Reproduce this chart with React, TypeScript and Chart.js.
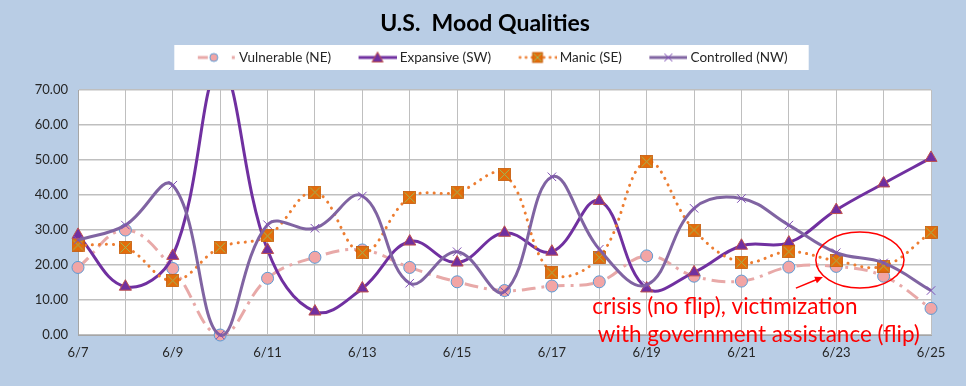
import React, { useEffect, useRef } from 'react';
import { Chart, registerables } from 'chart.js';
Chart.register(...registerables);

const labels = ['6/7','6/8','6/9','6/10','6/11','6/12','6/13','6/14','6/15','6/16','6/17','6/18','6/19','6/20','6/21','6/22','6/23','6/24','6/25'];
const vulnerable = [19.3, 30.0, 19.0, 0.0, 16.2, 22.2, 24.3, 19.3, 15.2, 12.7, 14.0, 15.2, 22.6, 16.8, 15.4, 19.4, 19.6, 16.8, 7.6];
const expansive = [28.6, 13.8, 22.6, 76.0, 24.3, 6.7, 13.3, 26.7, 20.7, 29.2, 23.8, 38.3, 13.3, 17.9, 25.5, 26.4, 35.7, 43.3, 50.6];
const manic = [25.7, 25.0, 15.5, 25.0, 28.3, 40.8, 23.5, 39.3, 40.8, 45.9, 17.8, 22.2, 49.5, 30.0, 20.8, 23.8, 21.2, 19.7, 29.3];
const controlled = [27.1, 31.4, 42.8, 0.0, 31.5, 30.5, 39.7, 14.8, 23.8, 12.4, 45.2, 24.5, 14.3, 36.2, 39.0, 31.4, 23.5, 20.6, 12.7];
const seriesNames = ['Vulnerable (NE)', 'Expansive (SW)', 'Manic (SE)', 'Controlled (NW)'];
const chartTitle = 'U.S.  Mood Qualities';
const noteLines = ['crisis (no flip), victimization', 'with government assistance (flip)'];
const yMin = 0;
const yMax = 70;
const yStep = 10;

const FONT = 'Lato, "Open Sans", sans-serif';
const TEXT = '#262626';

function makeCanvas(w: number, h: number, draw: (c: CanvasRenderingContext2D) => void) {
  const cv = document.createElement('canvas');
  cv.width = w;
  cv.height = h;
  const c = cv.getContext('2d')!;
  draw(c);
  return cv;
}

function drawManicSquare(c: CanvasRenderingContext2D, cx: number, cy: number, s: number) {
  const h = s / 2;
  c.fillStyle = '#E46C0A';
  c.fillRect(cx - h, cy - h, s, s);
  c.strokeStyle = '#C65A08';
  c.lineWidth = 0.8;
  c.strokeRect(cx - h, cy - h, s, s);
  c.strokeStyle = '#9BBB59';
  c.lineWidth = 1;
  c.beginPath();
  c.moveTo(cx - h + 1, cy - h + 1);
  c.lineTo(cx + h - 1, cy + h - 1);
  c.moveTo(cx + h - 1, cy - h + 1);
  c.lineTo(cx - h + 1, cy + h - 1);
  c.stroke();
}

export default function App() {
  const ref = useRef<HTMLCanvasElement>(null);

  useEffect(() => {
    const manicMarker = makeCanvas(13, 13, (c) => drawManicSquare(c, 6.5, 6.5, 12));

    const LW = 57, LH = 16, CY = 8, S0 = 19, SC = 38;
    const legendImgs = [
      makeCanvas(LW, LH, (c) => {
        c.strokeStyle = '#E8A9A8'; c.lineWidth = 3;
        c.beginPath(); c.moveTo(S0, CY); c.lineTo(S0 + 10, CY); c.stroke();
        c.fillStyle = '#E8A9A8'; c.fillRect(S0 + 34, CY - 1.5, 3, 3);
        c.beginPath(); c.arc(S0 + 16, CY, 4, 0, Math.PI * 2);
        c.fillStyle = '#F2A5A5'; c.fill();
        c.strokeStyle = '#5B9BD5'; c.lineWidth = 1; c.stroke();
      }),
      makeCanvas(LW, LH, (c) => {
        c.strokeStyle = '#7030A0'; c.lineWidth = 3;
        c.beginPath(); c.moveTo(S0, CY); c.lineTo(LW, CY); c.stroke();
        c.beginPath(); c.moveTo(SC, CY - 5.5); c.lineTo(SC + 5.5, CY + 4.5); c.lineTo(SC - 5.5, CY + 4.5); c.closePath();
        c.fillStyle = '#7030A0'; c.fill();
        c.strokeStyle = '#C0504D'; c.lineWidth = 1; c.stroke();
      }),
      makeCanvas(LW, LH, (c) => {
        c.fillStyle = '#ED7D31';
        [S0 + 1.5, S0 + 7.5, S0 + 13.5, SC + 6.5, SC + 12.5, SC + 18.5].forEach((x) => {
          c.beginPath(); c.arc(x, CY, 1.4, 0, Math.PI * 2); c.fill();
        });
        drawManicSquare(c, SC, CY, 10);
      }),
      makeCanvas(LW, LH, (c) => {
        c.strokeStyle = '#8064A2'; c.lineWidth = 3;
        c.beginPath(); c.moveTo(S0, CY); c.lineTo(LW, CY); c.stroke();
        c.strokeStyle = '#7F4FB5'; c.lineWidth = 1;
        c.beginPath(); c.moveTo(SC - 4, CY - 4); c.lineTo(SC + 4, CY + 4); c.moveTo(SC + 4, CY - 4); c.lineTo(SC - 4, CY + 4); c.stroke();
      }),
    ];

    const bgPlugin = {
      id: 'bgPlugin',
      beforeDraw(chart: any) {
        const { ctx, chartArea } = chart;
        ctx.save();
        ctx.fillStyle = '#B9CDE5';
        ctx.fillRect(0, 0, chart.width, chart.height);
        ctx.fillStyle = '#FFFFFF';
        ctx.fillRect(chartArea.left, chartArea.top, chartArea.right - chartArea.left, chartArea.bottom - chartArea.top);
        const hb = chart.legend && chart.legend.legendHitBoxes;
        if (hb && hb.length) {
          const l = Math.min(...hb.map((b: any) => b.left));
          const r = Math.max(...hb.map((b: any) => b.left + b.width));
          const cy = hb[0].top + hb[0].height / 2;
          ctx.fillRect(l - 8, cy - 12.5, r - l + 29, 25);
        }
        ctx.restore();
      },
    };

    const notePlugin = {
      id: 'notePlugin',
      afterDatasetsDraw(chart: any) {
        const { ctx } = chart;
        const xs = chart.scales.x;
        const ys = chart.scales.y;
        ctx.save();
        ctx.strokeStyle = '#FF0000';
        ctx.fillStyle = '#FF0000';
        ctx.lineWidth = 1.5;
        const ecx = xs.getPixelForValue(16.5);
        const ecy = ys.getPixelForValue(21.4);
        const erx = xs.getPixelForValue(16.5) - xs.getPixelForValue(15.57);
        const ery = ys.getPixelForValue(13.4) - ys.getPixelForValue(21.4);
        ctx.beginPath();
        ctx.ellipse(ecx, ecy, erx, ery, 0, 0, Math.PI * 2);
        ctx.stroke();
        const ax0 = xs.getPixelForValue(15.15), ay0 = ys.getPixelForValue(13.4);
        const ax1 = xs.getPixelForValue(15.72), ay1 = ys.getPixelForValue(16.6);
        const ang = Math.atan2(ay1 - ay0, ax1 - ax0);
        ctx.beginPath();
        ctx.moveTo(ax0, ay0);
        ctx.lineTo(ax1 - 6 * Math.cos(ang), ay1 - 6 * Math.sin(ang));
        ctx.stroke();
        ctx.beginPath();
        ctx.moveTo(ax1, ay1);
        ctx.lineTo(ax1 - 8 * Math.cos(ang) + 3.5 * Math.sin(ang), ay1 - 8 * Math.sin(ang) - 3.5 * Math.cos(ang));
        ctx.lineTo(ax1 - 8 * Math.cos(ang) - 3.5 * Math.sin(ang), ay1 - 8 * Math.sin(ang) + 3.5 * Math.cos(ang));
        ctx.closePath();
        ctx.fill();
        ctx.font = `22.5px ${FONT}`;
        ctx.textBaseline = 'middle';
        ctx.textAlign = 'left';
        ctx.fillText(noteLines[0], xs.getPixelForValue(10.85), ys.getPixelForValue(8.0));
        ctx.fillText(noteLines[1], xs.getPixelForValue(10.97), ys.getPixelForValue(0.0));
        ctx.restore();
      },
    };

    const common = { tension: 0.4, borderWidth: 3, clip: { left: 12, top: 0, right: 12, bottom: 12 } };

    const chart = new Chart(ref.current!, {
      type: 'line',
      data: {
        labels,
        datasets: [
          {
            ...common,
            label: seriesNames[0],
            data: vulnerable,
            order: 4,
            borderColor: '#E8A9A8',
            borderDash: [14, 6, 3, 6],
            pointStyle: 'circle',
            pointRadius: 6,
            pointBackgroundColor: '#F2A5A5',
            pointBorderColor: '#5B9BD5',
            pointBorderWidth: 1,
          },
          {
            ...common,
            label: seriesNames[1],
            data: expansive,
            order: 3,
            borderColor: '#7030A0',
            pointStyle: 'triangle',
            pointRadius: 7,
            pointBackgroundColor: '#7030A0',
            pointBorderColor: '#C0504D',
            pointBorderWidth: 1,
          },
          {
            ...common,
            label: seriesNames[2],
            data: manic,
            order: 2,
            borderColor: '#ED7D31',
            borderDash: [0.1, 7],
            borderCapStyle: 'round',
            pointStyle: manicMarker,
            pointRadius: 6,
          },
          {
            ...common,
            label: seriesNames[3],
            data: controlled,
            order: 1,
            borderColor: '#8064A2',
            pointStyle: 'crossRot',
            pointRadius: 6,
            pointBorderColor: '#7F4FB5',
            pointBorderWidth: 1,
          },
        ] as any,
      },
      options: {
        responsive: false,
        animation: false,
        devicePixelRatio: 1,
        layout: { padding: { left: 4, right: 0, top: 0, bottom: 0 } },
        elements: { line: { capBezierPoints: false } as any },
        plugins: {
          tooltip: { enabled: false },
          title: {
            display: true,
            text: chartTitle,
            color: '#000000',
            font: { family: FONT, size: 23, weight: 'bold', lineHeight: 1.2 },
            padding: { top: 10.2, bottom: 0.95 },
          },
          legend: {
            display: true,
            position: 'top',
            labels: {
              usePointStyle: true,
              pointStyleWidth: 50,
              padding: 12,
              color: TEXT,
              font: { family: FONT, size: 13.5 },
              sort: (a: any, b: any) => a.datasetIndex - b.datasetIndex,
              generateLabels: (ch: any) => {
                const items = (Chart.defaults.plugins.legend.labels as any).generateLabels(ch);
                items.forEach((it: any) => { it.pointStyle = legendImgs[it.datasetIndex]; });
                return items;
              },
            },
          },
        },
        scales: {
          x: {
            type: 'category',
            offset: false,
            grid: { display: true, color: '#BFBFBF', lineWidth: 1, drawTicks: false, offset: false },
            border: { display: true, color: '#A6A6A6', width: 1 },
            ticks: {
              autoSkip: false,
              maxRotation: 0,
              minRotation: 0,
              padding: 10,
              color: TEXT,
              font: { family: FONT, size: 13 },
              callback: (_v: any, i: number) => (i % 2 === 0 ? labels[i] : ''),
            },
            afterFit: (s: any) => { s.height = 51; },
          },
          y: {
            type: 'linear',
            min: yMin,
            max: yMax,
            grid: { display: true, color: '#BFBFBF', lineWidth: 1.5, drawTicks: false },
            border: { display: true, color: '#A6A6A6', width: 1 },
            ticks: {
              stepSize: yStep,
              padding: 10,
              color: TEXT,
              font: { family: FONT, size: 13 },
              callback: (v: any) => Number(v).toFixed(2),
            },
            afterFit: (s: any) => { s.width = 74; },
          },
          padTop: {
            type: 'linear',
            position: 'top',
            display: true,
            grid: { display: false },
            border: { display: false },
            ticks: { display: false },
            afterFit: (s: any) => { s.height = 15.75; },
          },
          padRight: {
            type: 'linear',
            position: 'right',
            display: true,
            grid: { display: false },
            border: { display: false },
            ticks: { display: false },
            afterFit: (s: any) => { s.width = 35; },
          },
        } as any,
      },
      plugins: [bgPlugin, notePlugin],
    });
    return () => chart.destroy();
  }, []);

  return (
    <div style={{ position: 'fixed', left: 0, top: 0, width: 966, height: 386 }}>
      <canvas ref={ref} width={966} height={386} />
    </div>
  );
}
